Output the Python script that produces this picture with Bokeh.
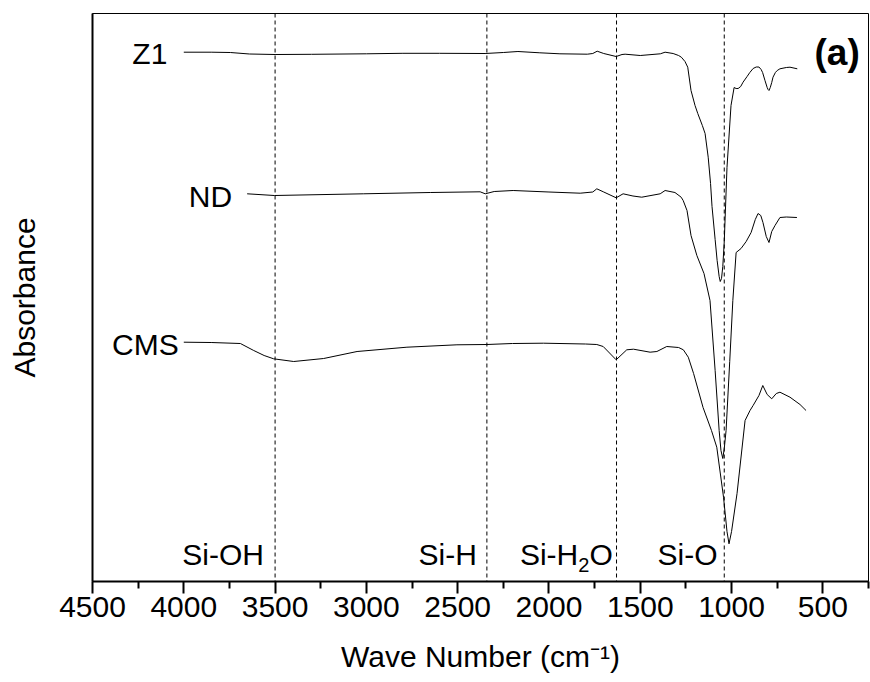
from bokeh.plotting import figure
from bokeh.models import Range1d, FixedTicker, Span
from bokeh.core.properties import value
from bokeh.embed import file_html
from bokeh.resources import INLINE

# ---- data (wave number in cm^-1, absorbance in a.u.) ----
z1_wn = [4000, 3850, 3745, 3640, 3500, 3300, 3000, 2800, 2600, 2350, 2250, 2170, 2050,
         1940, 1790, 1760, 1736, 1700, 1632, 1600, 1583, 1500, 1390, 1364, 1320, 1290, 1275,
         1255, 1240, 1222, 1200, 1185, 1160, 1145, 1128, 1115, 1107, 1090, 1079, 1068, 1062,
         1055, 1048, 1040, 1025, 1003, 986, 975, 964, 950, 937, 915, 900, 882, 865, 850, 838,
         830, 817, 805, 800, 795, 788, 780, 773, 760, 750, 735, 700, 680, 640]
z1_abs = [5.293, 5.293, 5.29, 5.275, 5.27, 5.272, 5.277, 5.282, 5.282, 5.28, 5.29, 5.30, 5.287,
          5.277, 5.273, 5.28, 5.303, 5.28, 5.25, 5.27, 5.273, 5.26, 5.277, 5.293, 5.28, 5.26, 5.243,
          5.20, 5.143, 4.91, 4.76, 4.68, 4.56, 4.48, 4.243, 3.98, 3.75, 3.42, 3.21, 3.05, 3.00,
          3.03, 3.15, 3.40, 4.14, 4.76, 4.94, 4.93, 4.93, 4.95, 4.993, 5.05, 5.09, 5.13, 5.145, 5.145, 5.12,
          5.09, 5.01, 4.94, 4.92, 4.91, 4.94, 4.99, 5.043, 5.09, 5.11, 5.127, 5.14, 5.143, 5.127]

nd_wn = [3653, 3504, 3017, 2650, 2377, 2349, 2300, 2196, 2000, 1829, 1760, 1738, 1700,
         1632, 1594, 1540, 1492, 1391, 1364, 1310, 1276, 1265, 1244, 1222, 1190, 1151,
         1118, 1090, 1068, 1058, 1048, 1040, 1030, 1010, 993, 975, 948, 920, 893, 870, 855,
         840, 828, 810, 795, 780, 762, 735, 700, 642]
nd_abs = [3.877, 3.86, 3.877, 3.89, 3.897, 3.877, 3.90, 3.91, 3.895, 3.883, 3.895, 3.927, 3.895,
          3.837, 3.877, 3.855, 3.843, 3.877, 3.91, 3.89, 3.843, 3.81, 3.71, 3.46, 3.26, 3.08,
          2.81, 2.11, 1.51, 1.31, 1.23, 1.33, 1.51, 2.20, 2.81, 3.29, 3.33, 3.40, 3.49, 3.62, 3.68,
          3.66, 3.59, 3.45, 3.39, 3.50, 3.56, 3.64, 3.645, 3.64]

cms_wn = [4000, 3850, 3690, 3617, 3560, 3508, 3398, 3234, 3051, 2778, 2504, 2340, 2200,
          2030, 1800, 1738, 1703, 1632, 1574, 1537, 1446, 1409, 1355, 1290, 1264, 1237,
          1208, 1156, 1110, 1081, 1044, 1025, 1014, 1000, 970, 926, 899, 882, 850, 829, 805,
          780, 755, 735, 680, 625, 592]
cms_abs = [2.393, 2.39, 2.38, 2.31, 2.26, 2.227, 2.20, 2.23, 2.30, 2.343, 2.367, 2.37, 2.38,
           2.383, 2.375, 2.37, 2.35, 2.217, 2.317, 2.323, 2.293, 2.30, 2.35, 2.34, 2.317, 2.243,
           2.08, 1.74, 1.51, 1.343, 0.843, 0.50, 0.377, 0.50, 0.88, 1.61, 1.71, 1.76, 1.86, 1.96, 1.87,
           1.827, 1.88, 1.893, 1.843, 1.77, 1.71]

series_names = ["Z1", "ND", "CMS"]
band_wn = [3500, 2340, 1630, 1040]
band_names = ["Si-OH", "Si-H", "Si-H\u2082O", "Si-O"]
x_ticks = [4500, 4000, 3500, 3000, 2500, 2000, 1500, 1000, 500]
x_minor = [4250, 3750, 3250, 2750, 2250, 1750, 1250, 750, 250]

FONT = "Liberation Sans"

p = figure(width=870, height=682, output_backend="svg", toolbar_location=None,
           x_range=Range1d(4500, 250), y_range=Range1d(0, 5.68),
           min_border_left=92, min_border_right=2, min_border_top=13, min_border_bottom=101)
p.xgrid.visible = False
p.ygrid.visible = False
p.outline_line_color = "black"
p.outline_line_width = 1
p.background_fill_color = "white"
p.border_fill_color = "white"

for wn, ab in [(z1_wn, z1_abs), (nd_wn, nd_abs), (cms_wn, cms_abs)]:
    p.line(wn, ab, line_color="black", line_width=1, line_join="round")

for b in band_wn:
    p.add_layout(Span(location=b, dimension="height", line_color="black",
                      line_width=1, line_dash="4 3"))

# x axis
xa = p.xaxis[0]
xa.ticker = FixedTicker(ticks=x_ticks, minor_ticks=x_minor)
xa.axis_label = "Wave Number (cm\u207b\u00b9)"
xa.axis_label_text_font = FONT
xa.axis_label_text_font_size = "30px"
xa.axis_label_text_font_style = "normal"
xa.axis_label_text_color = "black"
xa.axis_label_standoff = 20
xa.major_label_text_font = FONT
xa.major_label_text_font_size = "30px"
xa.major_label_text_color = "black"
xa.major_label_standoff = 3
xa.axis_line_width = 2
xa.axis_line_color = "black"
xa.major_tick_in = 0
xa.major_tick_out = 12
xa.minor_tick_in = 0
xa.minor_tick_out = 7
xa.major_tick_line_width = 2
xa.minor_tick_line_width = 2
xa.major_tick_line_color = "black"
xa.minor_tick_line_color = "black"

# y axis
ya = p.yaxis[0]
ya.ticker = FixedTicker(ticks=[])
ya.axis_label = "Absorbance"
ya.axis_label_text_font = FONT
ya.axis_label_text_font_size = "30px"
ya.axis_label_text_font_style = "normal"
ya.axis_label_text_color = "black"
ya.axis_label_standoff = 52
ya.axis_line_width = 2
ya.axis_line_color = "black"
ya.major_tick_out = 0
ya.major_tick_in = 0
ya.minor_tick_out = 0
ya.minor_tick_in = 0

# series labels
p.text(x=[4090, 3735, 4028], y=[5.278, 3.852, 2.375], text=series_names,
       text_font=value(FONT), text_font_size="30px", text_color="black",
       text_align="right", text_baseline="alphabetic")

# band labels
p.text(x=[3785, 2555, 1241], y=[0.268, 0.268, 0.268],
       text=[band_names[0], band_names[1], band_names[3]],
       text_font=value(FONT), text_font_size="30px", text_color="black",
       text_align="center", text_baseline="alphabetic")
# Si-H2O composed with a real subscript
p.text(x=[2159], y=[0.268], text=["Si-H"], text_font=value(FONT), text_font_size="30px",
       text_color="black", text_align="left", text_baseline="alphabetic")
p.text(x=[1840], y=[0.168], text=["2"], text_font=value(FONT), text_font_size="20px",
       text_color="black", text_align="left", text_baseline="alphabetic")
p.text(x=[1778], y=[0.268], text=["O"], text_font=value(FONT), text_font_size="30px",
       text_color="black", text_align="left", text_baseline="alphabetic")

# panel tag
p.text(x=[298], y=[5.29], text=["(a)"], text_font=value(FONT), text_font_size="37px",
       text_font_style="bold", text_color="black", text_align="right", text_baseline="alphabetic")

open("out.html", "w").write(file_html(p, INLINE))
